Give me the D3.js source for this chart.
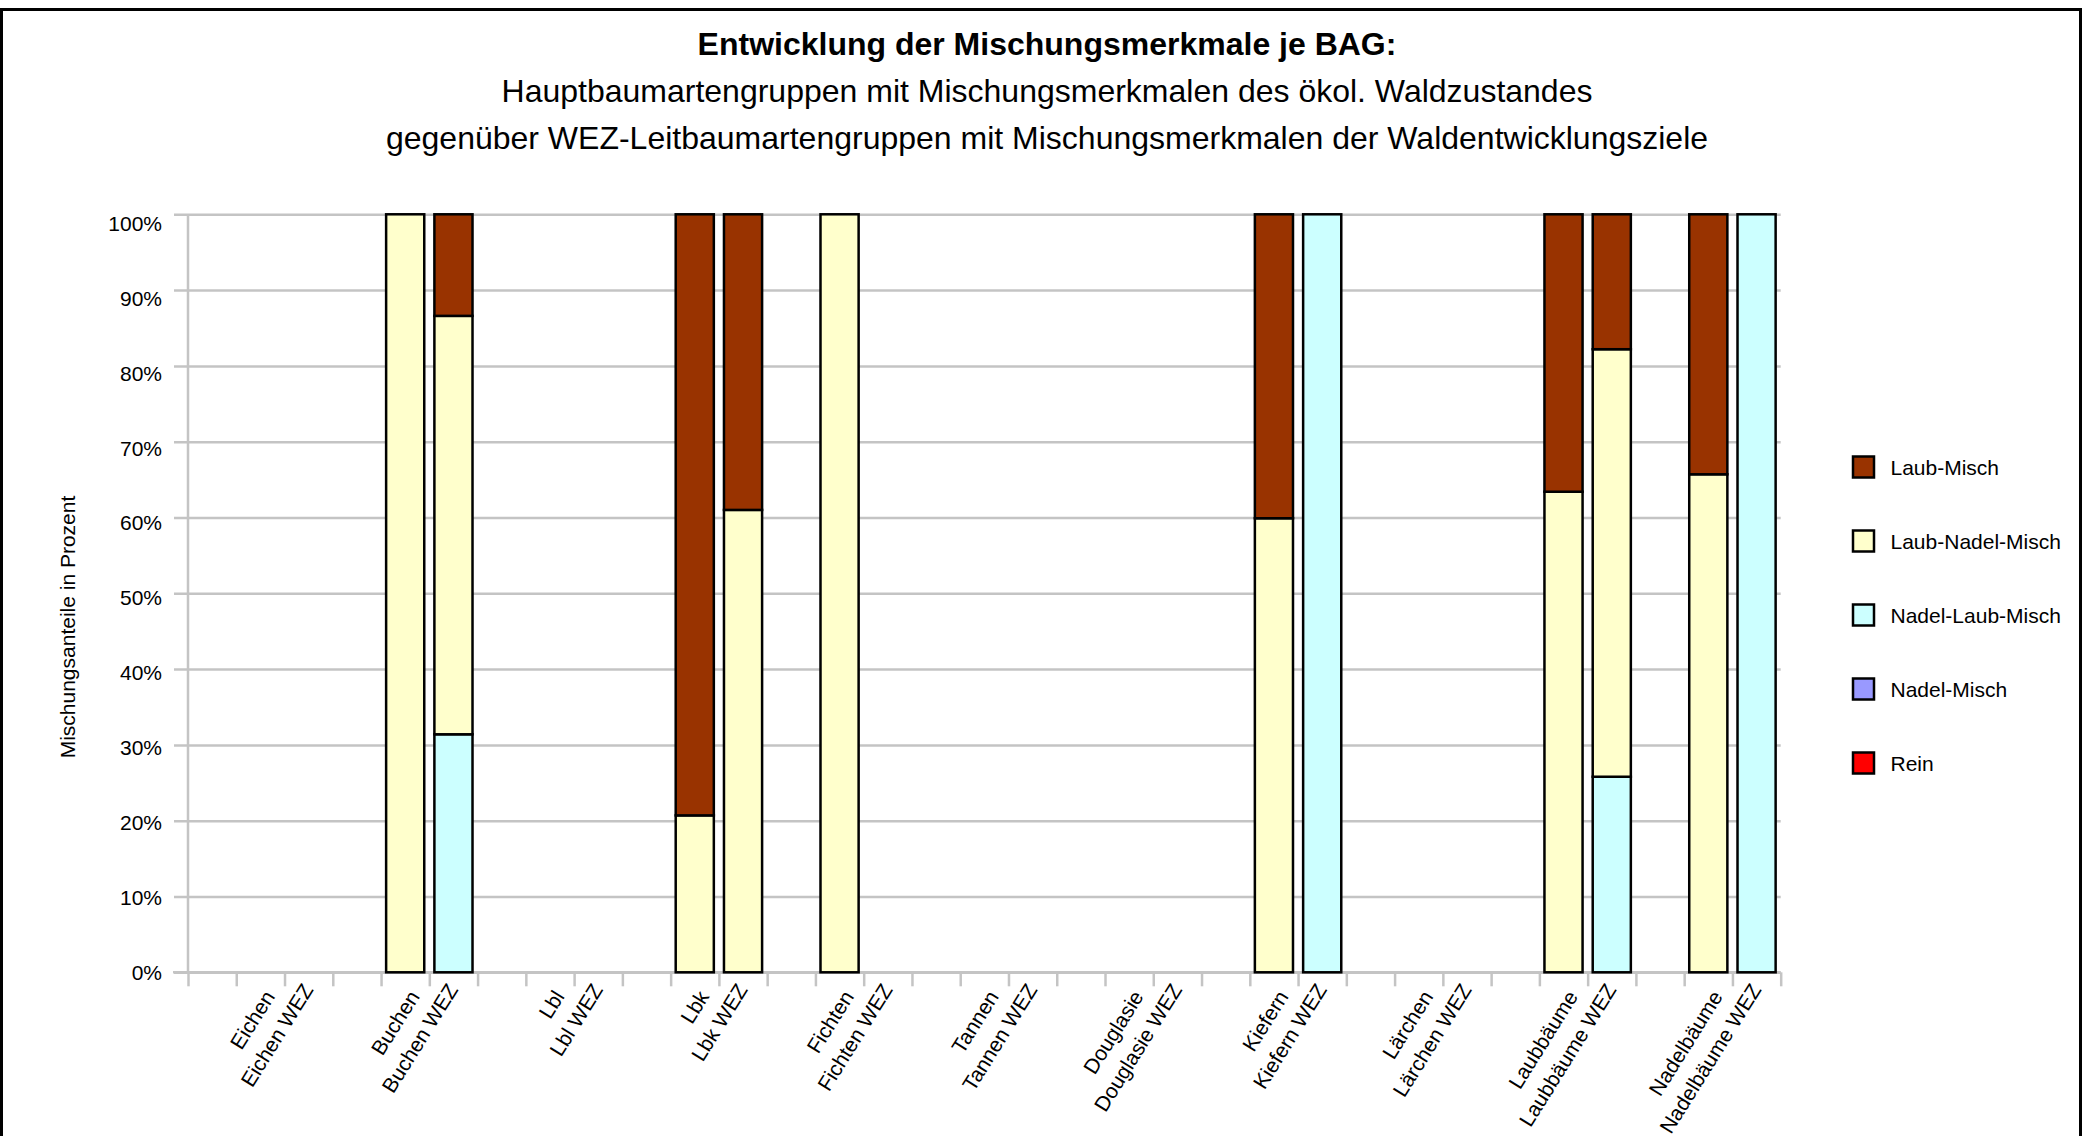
<!DOCTYPE html>
<html>
<head>
<meta charset="utf-8">
<script src="https://cdn.jsdelivr.net/npm/d3@7"></script>
<style>
  html, body { margin: 0; padding: 0; background: #fff; }
  svg { display: block; }
  text { font-family: "Liberation Sans", Arial, sans-serif; fill: #000; }
</style>
</head>
<body>
<svg id="chart" width="2083" height="1136"></svg>
<script>
// ---------------- data ----------------
const groups = ["Eichen", "Buchen", "Lbl", "Lbk", "Fichten", "Tannen", "Douglasie", "Kiefern", "Lärchen", "Laubbäume", "Nadelbäume"];
const categories = ["Eichen", "Eichen WEZ", "Buchen", "Buchen WEZ", "Lbl", "Lbl WEZ", "Lbk", "Lbk WEZ",
  "Fichten", "Fichten WEZ", "Tannen", "Tannen WEZ", "Douglasie", "Douglasie WEZ", "Kiefern", "Kiefern WEZ",
  "Lärchen", "Lärchen WEZ", "Laubbäume", "Laubbäume WEZ", "Nadelbäume", "Nadelbäume WEZ"];
// stacking order bottom -> top
const seriesNames = ["Rein", "Nadel-Misch", "Nadel-Laub-Misch", "Laub-Nadel-Misch", "Laub-Misch"];
const seriesColors = ["#FF0000", "#9999FF", "#CCFFFF", "#FFFFCC", "#993300"];
const rein           = [0, 0, 0, 0,    0, 0, 0,    0,    0,   0, 0, 0, 0, 0, 0,    0,   0, 0, 0,    0,    0,    0];
const nadelMisch     = [0, 0, 0, 0,    0, 0, 0,    0,    0,   0, 0, 0, 0, 0, 0,    0,   0, 0, 0,    0,    0,    0];
const nadelLaubMisch = [0, 0, 0, 31.4, 0, 0, 0,    0,    0,   0, 0, 0, 0, 0, 0,    100, 0, 0, 0,    25.8, 0,    100];
const laubNadelMisch = [0, 0, 100, 55.2, 0, 0, 20.7, 61.0, 100, 0, 0, 0, 0, 0, 59.9, 0,   0, 0, 63.4, 56.4, 65.7, 0];
const laubMisch      = [0, 0, 0, 13.4, 0, 0, 79.3, 39.0, 0,   0, 0, 0, 0, 0, 40.1, 0,   0, 0, 36.6, 17.8, 34.3, 0];
const yTicks = [0, 10, 20, 30, 40, 50, 60, 70, 80, 90, 100];
const titleLines = ["Entwicklung der Mischungsmerkmale je BAG:",
  "Hauptbaumartengruppen mit Mischungsmerkmalen des ökol. Waldzustandes",
  "gegenüber WEZ-Leitbaumartengruppen mit Mischungsmerkmalen der Waldentwicklungsziele"];
const yTitle = "Mischungsanteile in Prozent";

// ---------------- layout ----------------
const svg = d3.select("#chart");
const x0 = 188, x1 = 1780.7, yBottom = 972.3, yTop = 214.3;
const grey = "#c4c4c4";

// frame
svg.append("rect").attr("x", 1.5).attr("y", 9.5).attr("width", 2079).attr("height", 1300)
  .attr("fill", "none").attr("stroke", "#000").attr("stroke-width", 3);

// titles
const titleY = [55, 102, 149];
titleLines.forEach((t, i) => {
  svg.append("text").attr("x", 1047).attr("y", titleY[i]).attr("text-anchor", "middle")
    .attr("font-size", 32).attr("font-weight", i === 0 ? "bold" : "normal").text(t);
});

// slots: [gap, cat, cat WEZ] per group
const slots = [];
groups.forEach((g, i) => { slots.push("_gap" + i); slots.push(categories[2 * i]); slots.push(categories[2 * i + 1]); });

const x = d3.scaleBand().domain(slots).range([x0, x1]).paddingInner(0.21).paddingOuter(0.105);
const y = d3.scaleLinear().domain([0, 100]).range([yBottom, yTop]);
const yLab = d3.scaleLinear().domain([0, 100]).range([yBottom, yTop + 9.5]);
const slotScale = d3.scaleLinear().domain([0, slots.length]).range([x0, x1]);

// gridlines
const grid = svg.append("g").attr("transform", `translate(${x0},0)`)
  .call(d3.axisLeft(y).tickValues(yTicks).tickSize(14).tickFormat(""))
  .call(g => g.select(".domain").remove());
grid.selectAll(".tick line").attr("stroke", grey).attr("stroke-width", 2.5).attr("x1", -14).attr("x2", x1 - x0);

// y labels
svg.append("g").attr("transform", `translate(${x0 - 26},0)`)
  .call(d3.axisLeft(yLab).tickValues(yTicks).tickSize(0).tickPadding(0).tickFormat(d => d + "%"))
  .call(g => g.select(".domain").remove())
  .call(g => g.selectAll("text").attr("font-size", 21).attr("font-family", "Liberation Sans, Arial, sans-serif").attr("fill", "#000"));

// y axis line
svg.append("line").attr("x1", x0).attr("x2", x0).attr("y1", yTop).attr("y2", yBottom)
  .attr("stroke", grey).attr("stroke-width", 2.5);

// x axis with slot ticks
const xa = svg.append("g").attr("transform", `translate(0,${yBottom})`)
  .call(d3.axisBottom(slotScale).tickValues(d3.range(slots.length + 1)).tickSize(14).tickFormat(""));
xa.select(".domain").remove();
xa.selectAll(".tick line").attr("stroke", grey).attr("stroke-width", 2.5);
svg.append("line").attr("x1", 173).attr("x2", x1).attr("y1", yBottom).attr("y2", yBottom)
  .attr("stroke", grey).attr("stroke-width", 2.5);

// stacked bars
const seriesValues = [rein, nadelMisch, nadelLaubMisch, laubNadelMisch, laubMisch];
const rows = categories.map((c, j) => {
  const r = { cat: c };
  seriesNames.forEach((s, k) => r[s] = seriesValues[k][j]);
  return r;
});
const stacked = d3.stack().keys(seriesNames)(rows);
const bars = svg.append("g");
stacked.forEach((layer, k) => {
  bars.selectAll(null).data(layer.filter(d => d[1] - d[0] > 0)).enter().append("rect")
    .attr("x", d => x(d.data.cat))
    .attr("width", x.bandwidth())
    .attr("y", d => y(d[1]))
    .attr("height", d => y(d[0]) - y(d[1]))
    .attr("fill", seriesColors[k])
    .attr("stroke", "#000").attr("stroke-width", 2.5);
});

// x labels: two centered lines, rotated
const labG = svg.append("g");
groups.forEach((g, i) => {
  const cx = slotScale(3 * i + 2) + 11;
  const gg = labG.append("g").attr("transform", `translate(${cx},978) rotate(-58)`);
  const t1 = gg.append("text").attr("font-size", 21).attr("text-anchor", "middle").text(categories[2 * i]);
  const t2 = gg.append("text").attr("font-size", 21).attr("text-anchor", "middle").text(categories[2 * i + 1]);
  const w = Math.max(t1.node().getComputedTextLength(), t2.node().getComputedTextLength());
  t1.attr("x", -w / 2).attr("y", -14.5).attr("dy", "0.35em");
  t2.attr("x", -w / 2).attr("y", 14.5).attr("dy", "0.35em");
});

// y title
svg.append("text").attr("transform", "translate(68,627) rotate(-90)").attr("text-anchor", "middle")
  .attr("dy", "0.35em").attr("font-size", 21).text(yTitle);

// legend (top -> bottom reversed order)
const legendOrder = seriesNames.map((s, k) => ({ s, c: seriesColors[k] })).reverse();
const lg = svg.append("g");
legendOrder.forEach((d, i) => {
  const cy = 467 + i * 74;
  lg.append("rect").attr("x", 1853).attr("y", cy - 10.5).attr("width", 21).attr("height", 21)
    .attr("fill", d.c).attr("stroke", "#000").attr("stroke-width", 2.5);
  lg.append("text").attr("x", 1890.5).attr("y", cy + 7.5).attr("font-size", 21).text(d.s);
});
</script>
</body>
</html>
